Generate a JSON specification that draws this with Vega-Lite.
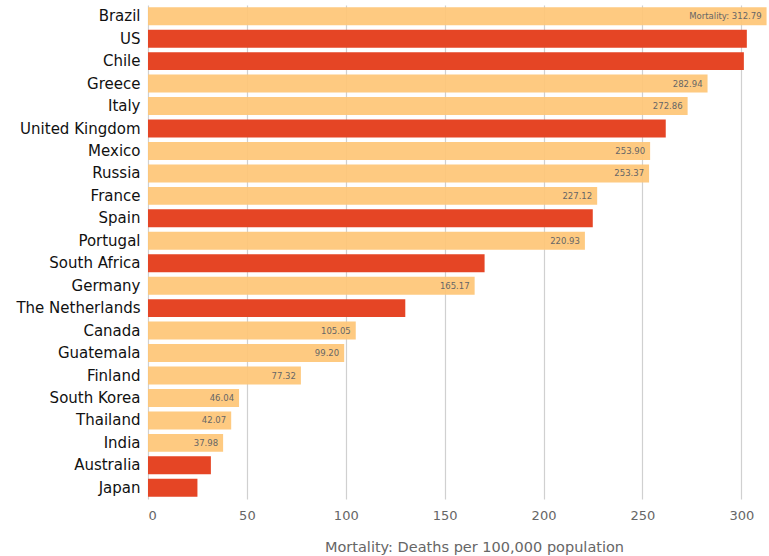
{
  "$schema": "https://vega.github.io/schema/vega-lite/v6.json",
  "width": 619,
  "height": 494,
  "autosize": {"type": "none"},
  "padding": {"left": 148, "top": 5, "right": 2, "bottom": 57},
  "background": "white",
  "config": {"view": {"stroke": null}, "font": "DejaVu Sans"},
  "data": {
    "values": [
      {"country": "Brazil", "mortality": 312.79, "group": "light", "label": "Mortality: 312.79"},
      {"country": "US", "mortality": 302.8, "group": "dark", "label": ""},
      {"country": "Chile", "mortality": 301.3, "group": "dark", "label": ""},
      {"country": "Greece", "mortality": 282.94, "group": "light", "label": "282.94"},
      {"country": "Italy", "mortality": 272.86, "group": "light", "label": "272.86"},
      {"country": "United Kingdom", "mortality": 261.8, "group": "dark", "label": ""},
      {"country": "Mexico", "mortality": 253.90, "group": "light", "label": "253.90"},
      {"country": "Russia", "mortality": 253.37, "group": "light", "label": "253.37"},
      {"country": "France", "mortality": 227.12, "group": "light", "label": "227.12"},
      {"country": "Spain", "mortality": 224.9, "group": "dark", "label": ""},
      {"country": "Portugal", "mortality": 220.93, "group": "light", "label": "220.93"},
      {"country": "South Africa", "mortality": 170.2, "group": "dark", "label": ""},
      {"country": "Germany", "mortality": 165.17, "group": "light", "label": "165.17"},
      {"country": "The Netherlands", "mortality": 130.1, "group": "dark", "label": ""},
      {"country": "Canada", "mortality": 105.05, "group": "light", "label": "105.05"},
      {"country": "Guatemala", "mortality": 99.20, "group": "light", "label": "99.20"},
      {"country": "Finland", "mortality": 77.32, "group": "light", "label": "77.32"},
      {"country": "South Korea", "mortality": 46.04, "group": "light", "label": "46.04"},
      {"country": "Thailand", "mortality": 42.07, "group": "light", "label": "42.07"},
      {"country": "India", "mortality": 37.98, "group": "light", "label": "37.98"},
      {"country": "Australia", "mortality": 31.8, "group": "dark", "label": ""},
      {"country": "Japan", "mortality": 25.0, "group": "dark", "label": ""}
    ]
  },
  "encoding": {
    "y": {
      "field": "country",
      "type": "nominal",
      "sort": null,
      "scale": {"paddingInner": 0.2, "paddingOuter": 0.1},
      "axis": {
        "title": null,
        "domain": false,
        "ticks": false,
        "labelPadding": 8,
        "labelFontSize": 15,
        "labelColor": "#111",
        "labelFont": "DejaVu Sans"
      }
    },
    "x": {
      "field": "mortality",
      "type": "quantitative",
      "scale": {"domain": [0, 313], "nice": false},
      "axis": {
        "values": [0, 50, 100, 150, 200, 250, 300],
        "title": "Mortality: Deaths per 100,000 population",
        "titleFontSize": 14.5,
        "titleFontWeight": "normal",
        "titleColor": "#666",
        "titlePadding": 18,
        "titleX": 326,
        "titleAlign": "center",
        "domain": false,
        "ticks": false,
        "labelFontSize": 13,
        "labelColor": "#666",
        "labelPadding": 10,
        "grid": true,
        "gridColor": "#d0d0d0",
        "gridWidth": 1.2
      }
    }
  },
  "layer": [
    {
      "mark": {"type": "bar", "strokeWidth": 1},
      "encoding": {
        "color": {
          "field": "group",
          "type": "nominal",
          "scale": {"domain": ["light", "dark"], "range": ["#FEC576", "#E54525"]},
          "legend": null
        },
        "opacity": {
          "field": "group",
          "type": "nominal",
          "scale": {"domain": ["light", "dark"], "range": [0.92, 1]},
          "legend": null
        }
      }
    },
    {
      "mark": {"type": "text", "align": "right", "dx": -5, "fontSize": 8.5, "color": "#666"},
      "encoding": {"text": {"field": "label"}}
    }
  ]
}
